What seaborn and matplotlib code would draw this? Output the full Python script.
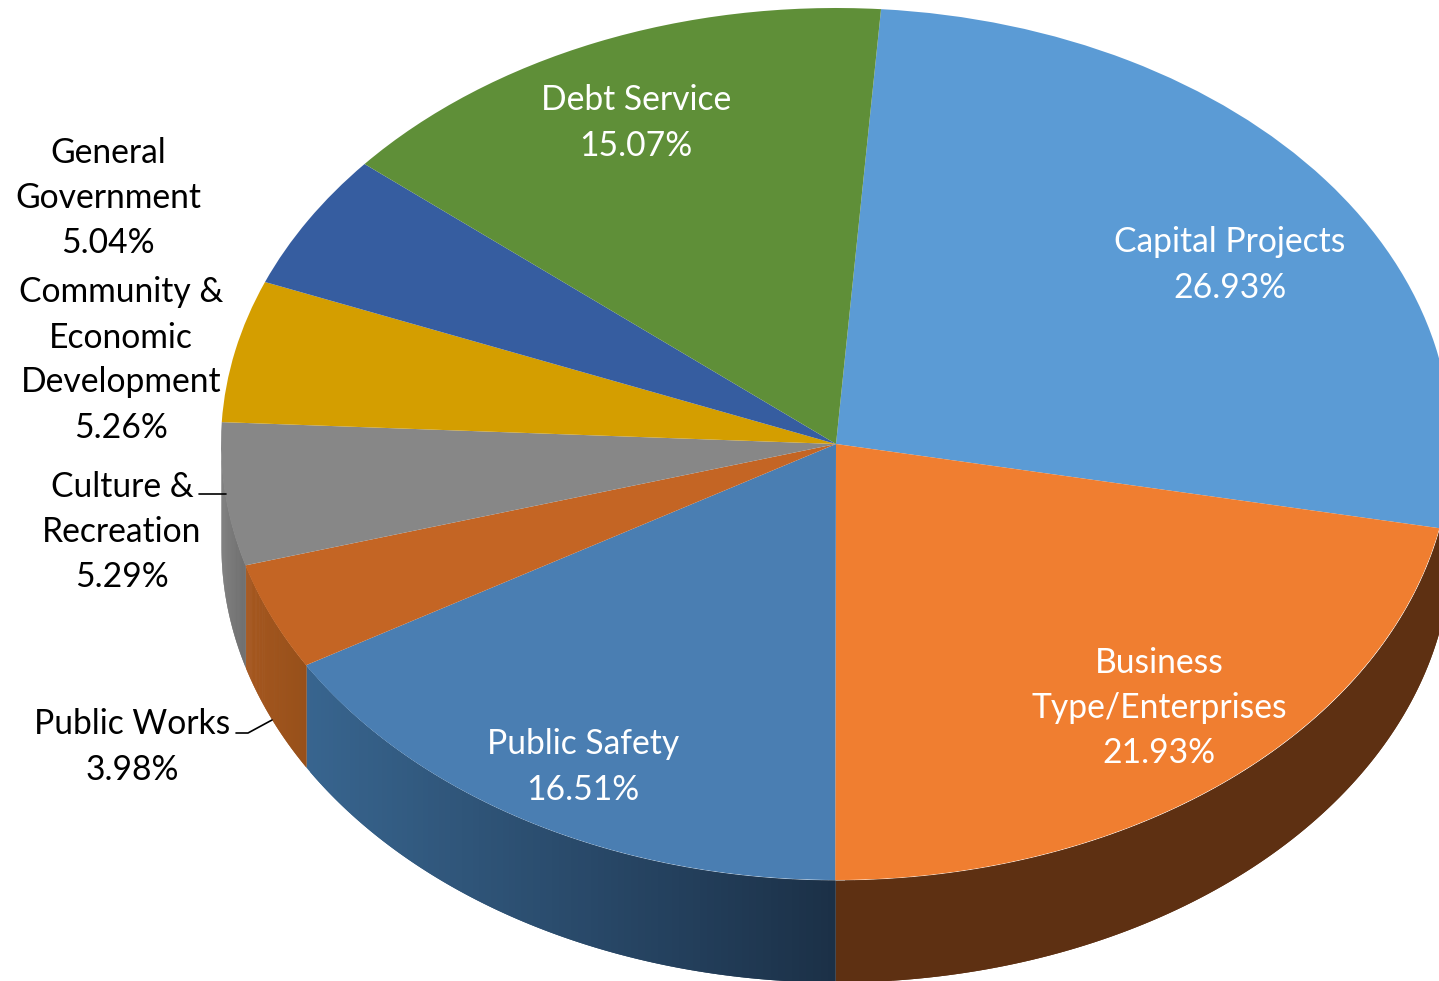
import numpy as np
import matplotlib
matplotlib.use("Agg")
import matplotlib.pyplot as plt
from matplotlib.colors import to_rgb
from matplotlib.transforms import Affine2D
import seaborn as sns

# Budget shares by category, clockwise from the top right
categories = ["Capital Projects", "Business\nType/Enterprises", "Public Safety",
              "Public Works", "Culture &\nRecreation",
              "Community &\nEconomic\nDevelopment", "General\nGovernment", "Debt Service"]
shares = [26.93, 21.93, 16.51, 3.98, 5.29, 5.26, 5.04, 15.07]
top_colors = ["#5b9bd5", "#f07e30", "#4a7eb2", "#c46524", "#878787",
              "#d49e00", "#365da0", "#5f8f38"]
# Side wall shade at the left and right end of each slice's visible rim
wall_left = ["#5b9bd5", "#5e3012", "#38658f", "#a5571f", "#767676",
             "#d49e00", "#365da0", "#5f8f38"]
wall_right = ["#5b9bd5", "#5e3012", "#1b3047", "#97501a", "#6e6e6e",
              "#d49e00", "#365da0", "#5f8f38"]
label_colors = ["white", "white", "white", "black", "black", "black", "black", "white"]
label_spots = [(1230, 265), (1159, 708), (583, 767), (132, 747), (122, 532),
               (121, 360), (108, 198), (636, 123)]

WIDTH, HEIGHT = 1439, 981
CENTER_X, CENTER_Y = 836, 444
RADIUS_X, RADIUS_Y = 615, 436
DEPTH = 102 / RADIUS_Y
START_ANGLE = 85.8

sns.set_theme(style="white")
plt.rcParams["font.family"] = ["Lato", "DejaVu Sans"]

fig = plt.figure(figsize=(WIDTH / 100, HEIGHT / 100), dpi=100)
ax = fig.add_axes([0, 0, 1, 1])

ax.pie(shares, colors=top_colors, startangle=START_ANGLE, counterclock=False,
       radius=1, wedgeprops={"linewidth": 0, "zorder": 3})
ax.set_aspect("auto")
ax.set_xlim(-CENTER_X / RADIUS_X, (WIDTH - CENTER_X) / RADIUS_X)
ax.set_ylim(-(HEIGHT - CENTER_Y) / RADIUS_Y, CENTER_Y / RADIUS_Y)

# Extrude the front half of the rim; each strip overlaps the next so no seams show
edges = START_ANGLE - np.cumsum([0] + shares) * 3.6
for i, (hi, lo) in enumerate(zip(edges[:-1], edges[1:])):
    hi_w, lo_w = (hi + 360) % 360, (lo + 360) % 360
    if lo_w > hi_w:
        lo_w -= 360
    a0, a1 = max(lo_w, 180), min(hi_w, 360)
    if a1 <= a0:
        continue
    theta = np.radians(np.linspace(a0, a1, 90))
    x = np.cos(theta)
    y = np.sin(theta)
    c_left, c_right = np.array(to_rgb(wall_left[i])), np.array(to_rgb(wall_right[i]))
    span = x.max() - x.min()
    for j in range(len(x) - 1):
        t = (0.5 * (x[j] + x[j + 1]) - x.min()) / span
        col = c_left + (c_right - c_left) * t
        ax.fill_between(x[j:j + 3], y[j:j + 3] - DEPTH, y[j:j + 3], color=col,
                        linewidth=0, zorder=2)

# Text and leader lines are placed in pixels measured from the top left
px = Affine2D().scale(1, -1).translate(0, HEIGHT)
for name, share, color, (lx, ly) in zip(categories, shares, label_colors, label_spots):
    ax.text(lx, ly, f"{name}\n{share:.2f}%", transform=px, color=color, fontsize=24.2,
            ha="center", va="center", multialignment="center", linespacing=1.5,
            zorder=5)

ax.plot([199, 226], [494, 494], transform=px, color="black", lw=1.2, zorder=5, clip_on=False)
ax.plot([236, 248, 272], [733, 733, 720], transform=px, color="black", lw=1.2, zorder=5, clip_on=False)

fig.savefig("out.png", dpi=100, facecolor="white")
